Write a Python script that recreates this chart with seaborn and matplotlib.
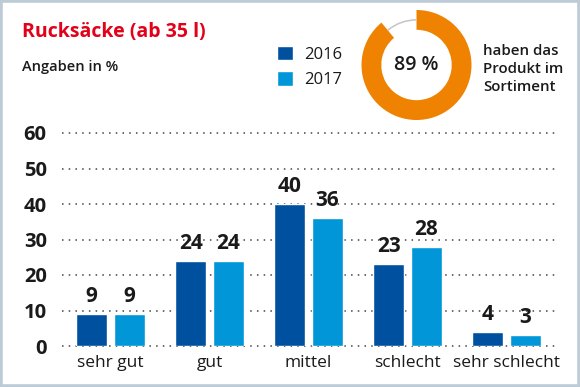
import matplotlib
matplotlib.use("Agg")
import matplotlib.pyplot as plt
import seaborn as sns
import pandas as pd
from matplotlib.patches import Rectangle

# ---- data ----
categories = ["sehr gut", "gut", "mittel", "schlecht", "sehr schlecht"]
years = ["2016", "2017"]
values_2016 = [9, 24, 40, 23, 4]
values_2017 = [9, 24, 36, 28, 3]
share_in_range = 89
yticks = [0, 10, 20, 30, 40, 50, 60]

title = "Rucksäcke (ab 35 l)"
subtitle = "Angaben in %"
donut_note = "haben das\nProdukt im\nSortiment"

# ---- style ----
C16 = "#0050a0"
C17 = "#0096d8"
ORANGE = "#ef8200"
RED = "#e2001a"
TXT = "#1a1a1a"
FONT = "Open Sans"

sns.set_theme(style="white")
plt.rcParams["font.family"] = [FONT, "DejaVu Sans"]

df = pd.DataFrame({
    "Kategorie": categories * 2,
    "Jahr": [years[0]] * len(categories) + [years[1]] * len(categories),
    "Wert": values_2016 + values_2017,
})

W, H = 580, 387
fig = plt.figure(figsize=(W / 100, H / 100), dpi=100)
fig.patch.set_facecolor("white")

def px(x0, y0, x1, y1):
    return [x0 / W, 1 - y1 / H, (x1 - x0) / W, (y1 - y0) / H]

ax = fig.add_axes(px(62, 133, 557, 346))
sns.barplot(data=df, x="Kategorie", y="Wert", hue="Jahr", order=categories,
            hue_order=years, palette=[C16, C17], width=0.76, gap=0.184,
            saturation=1, ax=ax, zorder=3)
ax.set_xlim(-0.49, 4.51)
ax.set_ylim(0, 60)
ax.set_yticks(yticks)
ax.set_yticklabels([str(t) for t in yticks], fontsize=14.5, fontweight="bold", color=TXT)
ax.tick_params(axis="y", length=0, pad=11)
ax.tick_params(axis="x", length=0, pad=6.5, labelsize=12.5, labelcolor=TXT)
for lab in ax.get_xticklabels():
    lab.set_fontweight("medium")
ax.set_xlabel("")
ax.set_ylabel("")
for s in ax.spines.values():
    s.set_visible(False)
for t in yticks:
    ax.axhline(t, color="#444444", lw=1.1, ls=(0, (1, 3.4)), zorder=1, clip_on=False)
for cont in ax.containers:
    ax.bar_label(cont, padding=5, fontsize=15, fontweight="bold", color=TXT)

handles, labels = ax.get_legend_handles_labels()
if ax.legend_ is not None:
    ax.legend_.remove()
fig.legend(handles, labels, loc="upper left", bbox_to_anchor=(277 / W, 1 - 46 / H),
           frameon=False, handlelength=0.95, handleheight=0.95, handletextpad=0.7,
           labelspacing=0.5, borderpad=0, borderaxespad=0, fontsize=12,
           labelcolor=TXT)

# title and subtitle
fig.text(22 / W, 1 - 32 / H, title, fontsize=14, fontweight="bold", color=RED,
         va="center", ha="left")
fig.text(22 / W, 1 - 67 / H, subtitle, fontsize=10.5, fontweight="semibold", color=TXT,
         va="center", ha="left")

# donut
cx, cy, r = 416.5, 65, 55
dax = fig.add_axes(px(cx - r, cy - r, cx + r, cy + r))
dax.pie([share_in_range, 100 - share_in_range], colors=[ORANGE, "none"], startangle=90,
        counterclock=False, radius=1.0, wedgeprops=dict(width=0.36, linewidth=0))
dax.pie([share_in_range, 100 - share_in_range], colors=["none", "#c8c8c8"], startangle=90,
        counterclock=False, radius=0.835, wedgeprops=dict(width=0.03, linewidth=0))
dax.set_xlim(-1, 1)
dax.set_ylim(-1, 1)
dax.set_aspect("equal")
dax.axis("off")
dax.text(0, 0, f"{share_in_range} %", ha="center", va="center", fontsize=14,
         fontweight="semibold", color=TXT)

fig.text(483 / W, 1 - 69 / H, donut_note, fontsize=10.8, fontweight="semibold",
         color=TXT, ha="left", va="center", linespacing=1.4)

# frame
fig.patches.append(Rectangle((0, 0), 1, 1, transform=fig.transFigure, fill=False,
                             edgecolor="#bccbd6", linewidth=4, zorder=10))

fig.savefig("out.png", dpi=100)
